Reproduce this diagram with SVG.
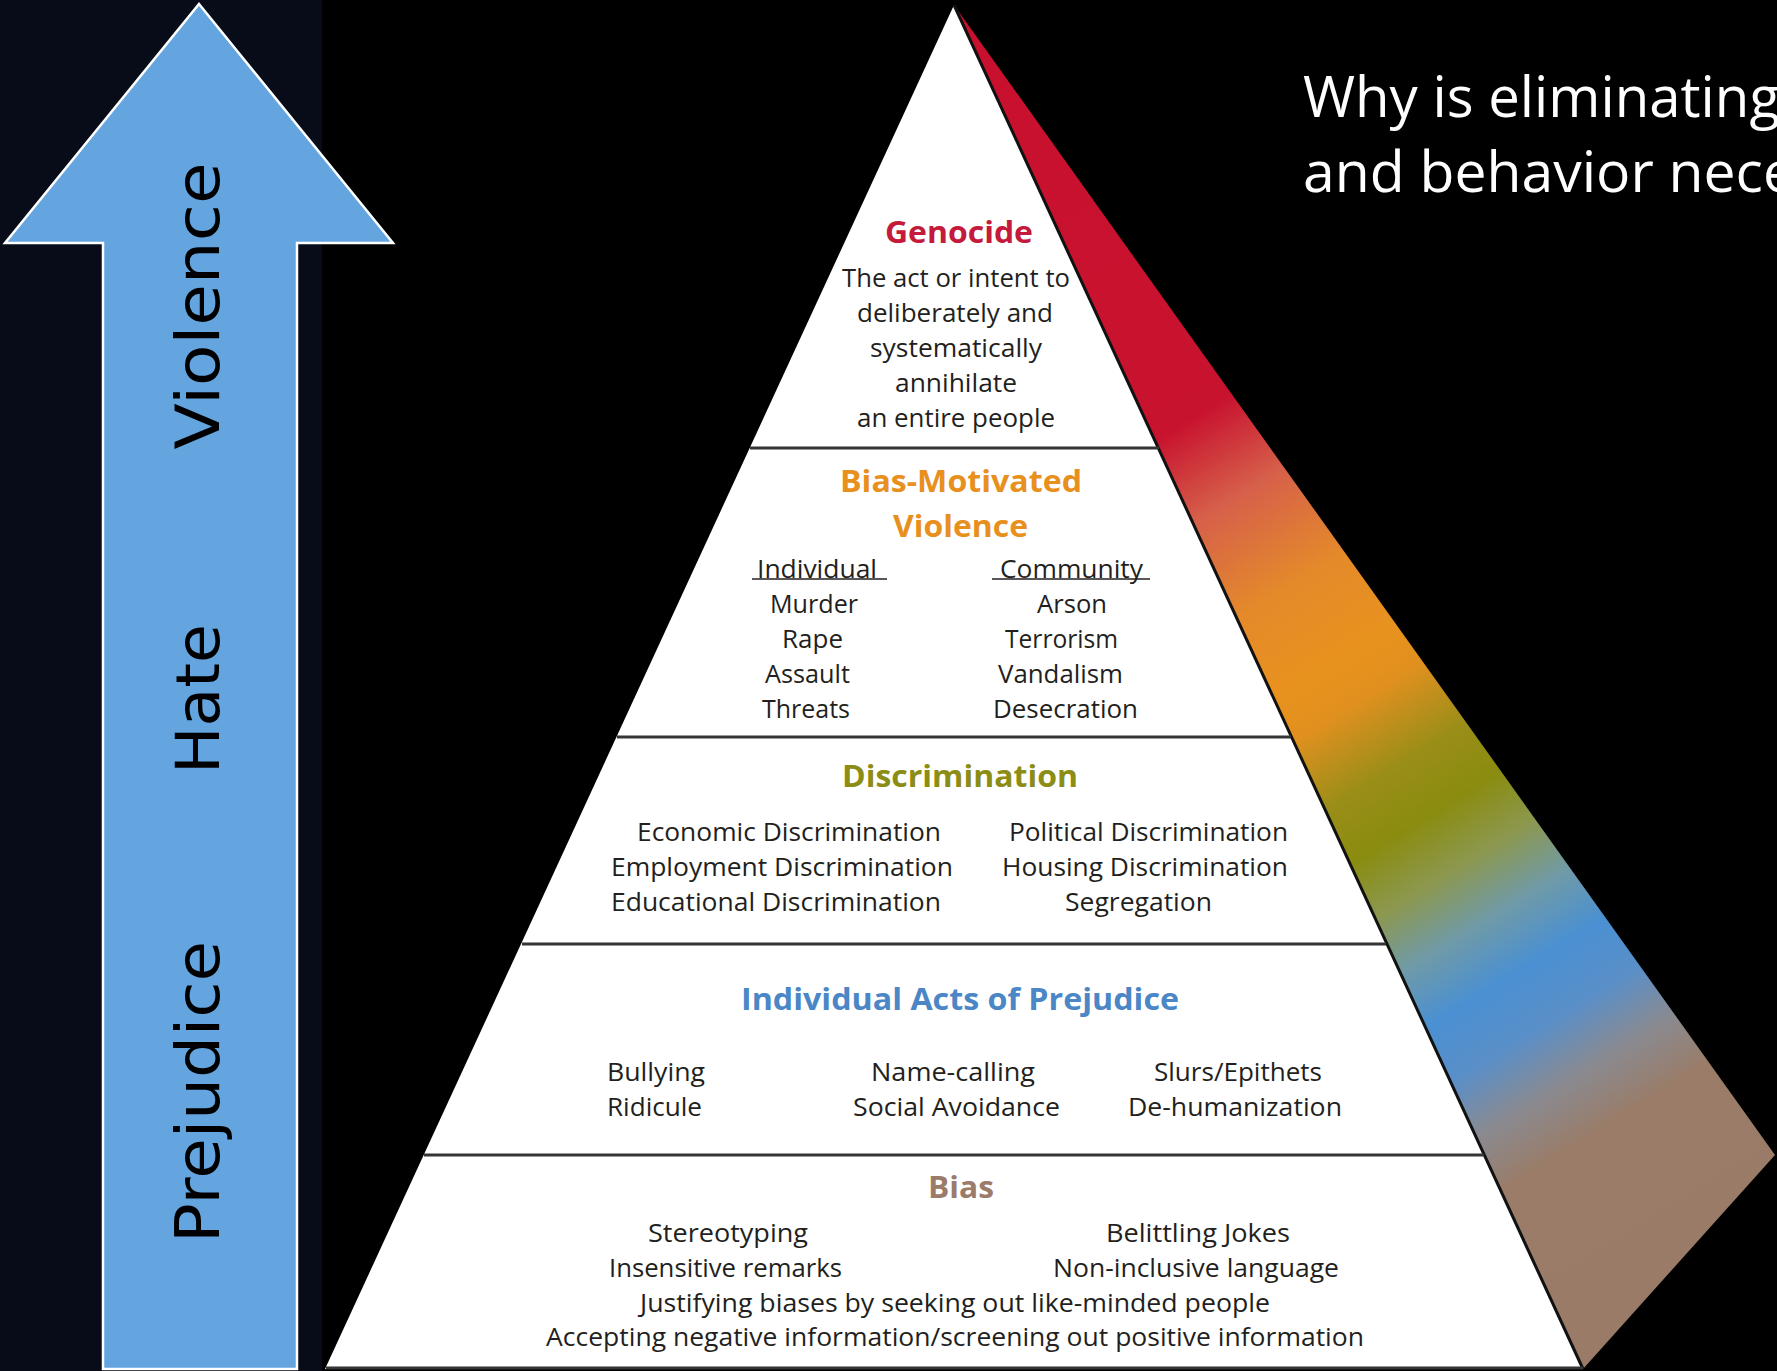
<svg xmlns="http://www.w3.org/2000/svg" width="1777" height="1371" viewBox="0 0 1777 1371">
  <defs>
    <linearGradient id="faceGrad" gradientUnits="userSpaceOnUse" x1="954" y1="5" x2="1740" y2="1272">
      <stop offset="0" stop-color="#c8102e"/>
      <stop offset="0.32" stop-color="#c8132f"/>
      <stop offset="0.38" stop-color="#d6604a"/>
      <stop offset="0.45" stop-color="#e48a2a"/>
      <stop offset="0.51" stop-color="#e8921e"/>
      <stop offset="0.54" stop-color="#e0901f"/>
      <stop offset="0.59" stop-color="#9a8e18"/>
      <stop offset="0.63" stop-color="#8a8c10"/>
      <stop offset="0.67" stop-color="#8c9850"/>
      <stop offset="0.71" stop-color="#6f9aa8"/>
      <stop offset="0.75" stop-color="#4a90d2"/>
      <stop offset="0.79" stop-color="#5a8fc8"/>
      <stop offset="0.83" stop-color="#8a8a90"/>
      <stop offset="0.87" stop-color="#9a7c68"/>
      <stop offset="1" stop-color="#9a7b67"/>
    </linearGradient>
  </defs>
  <style>
    .arrowtxt { font-family: "DejaVu Sans", sans-serif; font-size: 60px; fill: #000; text-anchor: middle; }
    .title { font-family: "Open Sans", "Noto Sans", sans-serif; font-size: 56px; fill: #fff; }
    .head { font-family: "Open Sans", "Noto Sans", sans-serif; font-size: 31px; font-weight: bold; }
    .body { font-family: "Open Sans", "Noto Sans", sans-serif; font-size: 26px; fill: #231f20; }
    .small { font-family: "Open Sans", "Noto Sans", sans-serif; font-size: 25px; fill: #231f20; }
    .divider { stroke: #353535; stroke-width: 3; }
  </style>

  <g id="background">
    <rect x="0" y="0" width="1777" height="1371" fill="#000"/>
    <rect x="0" y="0" width="322" height="1371" fill="#070c18"/>
  </g>

  <g id="arrow">
    <polygon points="199,4 393,243 297,243 297,1369 103,1369 103,243 5,243" fill="#64a5e0" stroke="#ffffff" stroke-width="2.5" stroke-linejoin="miter"/>
    <text class="arrowtxt" transform="translate(219,306) rotate(-90)" textLength="287" lengthAdjust="spacingAndGlyphs">Violence</text>
    <text class="arrowtxt" transform="translate(219,699) rotate(-90)" textLength="150" lengthAdjust="spacingAndGlyphs">Hate</text>
    <text class="arrowtxt" transform="translate(219,1092) rotate(-90)" textLength="302" lengthAdjust="spacingAndGlyphs">Prejudice</text>
  </g>

  <g id="title">
    <text class="title" x="1303" y="117" textLength="477" lengthAdjust="spacingAndGlyphs">Why is eliminating</text>
    <text class="title" x="1303" y="192" textLength="492" lengthAdjust="spacingAndGlyphs">and behavior nece</text>
  </g>

  <g id="pyramid">
    <polygon id="side-face" points="954,5 1775,1155 1583,1369" fill="url(#faceGrad)"/>
    <polygon id="front-face" points="954,5 1583,1369 325,1369" fill="#ffffff"/>
    <line x1="954" y1="5" x2="1583" y2="1369" stroke="#111" stroke-width="3"/>
  </g>

  <g id="connectors">
    <line class="divider" x1="750" y1="448" x2="1159" y2="448"/>
    <line class="divider" x1="617" y1="737" x2="1291" y2="737"/>
    <line class="divider" x1="522" y1="944" x2="1386" y2="944"/>
    <line class="divider" x1="424" y1="1155" x2="1484" y2="1155"/>
    <line class="divider" x1="326" y1="1368" x2="1583" y2="1368"/>
  </g>

  <g id="tier-genocide">
    <text class="head" x="885" y="243" fill="#c41a3b" textLength="148" lengthAdjust="spacingAndGlyphs">Genocide</text>
    <text class="body" x="842" y="287" textLength="228" lengthAdjust="spacingAndGlyphs">The act or intent to</text>
    <text class="body" x="857" y="322" textLength="196" lengthAdjust="spacingAndGlyphs">deliberately and</text>
    <text class="body" x="870" y="357" textLength="172" lengthAdjust="spacingAndGlyphs">systematically</text>
    <text class="body" x="895" y="392" textLength="122" lengthAdjust="spacingAndGlyphs">annihilate</text>
    <text class="body" x="857" y="427" textLength="198" lengthAdjust="spacingAndGlyphs">an entire people</text>
  </g>

  <g id="tier-bias-motivated-violence">
    <text class="head" x="840" y="492" fill="#e8901e" textLength="242" lengthAdjust="spacingAndGlyphs">Bias-Motivated</text>
    <text class="head" x="893" y="537" fill="#e8901e" textLength="135" lengthAdjust="spacingAndGlyphs">Violence</text>
    <text class="body" x="757" y="578" textLength="120" lengthAdjust="spacingAndGlyphs">Individual</text>
    <line x1="752" y1="579" x2="887" y2="579" stroke="#231f20" stroke-width="1.5"/>
    <text class="body" x="1000" y="578" textLength="143" lengthAdjust="spacingAndGlyphs">Community</text>
    <line x1="992" y1="579" x2="1150" y2="579" stroke="#231f20" stroke-width="1.5"/>
    <text class="body" x="770" y="613" textLength="88" lengthAdjust="spacingAndGlyphs">Murder</text>
    <text class="body" x="782" y="648" textLength="61" lengthAdjust="spacingAndGlyphs">Rape</text>
    <text class="body" x="765" y="683" textLength="85" lengthAdjust="spacingAndGlyphs">Assault</text>
    <text class="body" x="762" y="718" textLength="88" lengthAdjust="spacingAndGlyphs">Threats</text>
    <text class="body" x="1037" y="613" textLength="70" lengthAdjust="spacingAndGlyphs">Arson</text>
    <text class="body" x="1005" y="648" textLength="113" lengthAdjust="spacingAndGlyphs">Terrorism</text>
    <text class="body" x="998" y="683" textLength="125" lengthAdjust="spacingAndGlyphs">Vandalism</text>
    <text class="body" x="993" y="718" textLength="145" lengthAdjust="spacingAndGlyphs">Desecration</text>
  </g>

  <g id="tier-discrimination">
    <text class="head" x="842" y="787" fill="#8b8d14" textLength="236" lengthAdjust="spacingAndGlyphs">Discrimination</text>
    <text class="body" x="637" y="841" textLength="304" lengthAdjust="spacingAndGlyphs">Economic Discrimination</text>
    <text class="body" x="611" y="876" textLength="342" lengthAdjust="spacingAndGlyphs">Employment Discrimination</text>
    <text class="body" x="611" y="911" textLength="330" lengthAdjust="spacingAndGlyphs">Educational Discrimination</text>
    <text class="body" x="1009" y="841" textLength="279" lengthAdjust="spacingAndGlyphs">Political Discrimination</text>
    <text class="body" x="1002" y="876" textLength="286" lengthAdjust="spacingAndGlyphs">Housing Discrimination</text>
    <text class="body" x="1065" y="911" textLength="147" lengthAdjust="spacingAndGlyphs">Segregation</text>
  </g>

  <g id="tier-individual-acts">
    <text class="head" x="741" y="1010" fill="#4b87c6" textLength="438" lengthAdjust="spacingAndGlyphs">Individual Acts of Prejudice</text>
    <text class="body" x="607" y="1081" textLength="98" lengthAdjust="spacingAndGlyphs">Bullying</text>
    <text class="body" x="607" y="1116" textLength="95" lengthAdjust="spacingAndGlyphs">Ridicule</text>
    <text class="body" x="871" y="1081" textLength="164" lengthAdjust="spacingAndGlyphs">Name-calling</text>
    <text class="body" x="853" y="1116" textLength="207" lengthAdjust="spacingAndGlyphs">Social Avoidance</text>
    <text class="body" x="1154" y="1081" textLength="168" lengthAdjust="spacingAndGlyphs">Slurs/Epithets</text>
    <text class="body" x="1128" y="1116" textLength="214" lengthAdjust="spacingAndGlyphs">De-humanization</text>
  </g>

  <g id="tier-bias">
    <text class="head" x="928" y="1198" fill="#9b7b69" textLength="66" lengthAdjust="spacingAndGlyphs">Bias</text>
    <text class="small" x="648" y="1242" textLength="160" lengthAdjust="spacingAndGlyphs">Stereotyping</text>
    <text class="small" x="1106" y="1242" textLength="184" lengthAdjust="spacingAndGlyphs">Belittling Jokes</text>
    <text class="small" x="609" y="1277" textLength="233" lengthAdjust="spacingAndGlyphs">Insensitive remarks</text>
    <text class="small" x="1053" y="1277" textLength="286" lengthAdjust="spacingAndGlyphs">Non-inclusive language</text>
    <text class="small" x="640" y="1312" textLength="630" lengthAdjust="spacingAndGlyphs">Justifying biases by seeking out like-minded people</text>
    <text class="small" x="546" y="1346" textLength="818" lengthAdjust="spacingAndGlyphs">Accepting negative information/screening out positive information</text>
  </g>
</svg>
